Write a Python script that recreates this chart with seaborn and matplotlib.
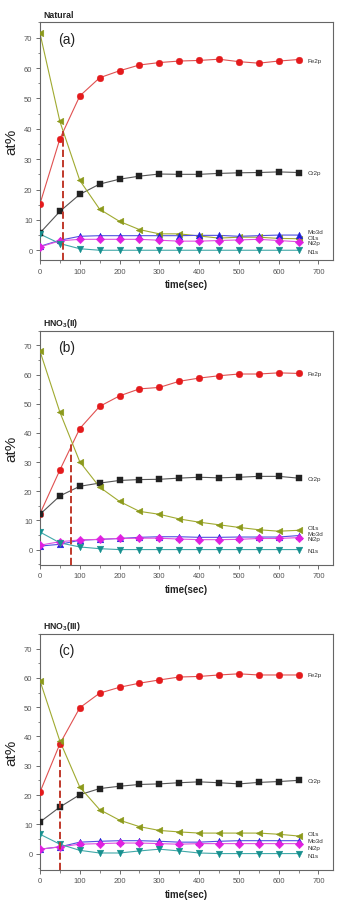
import numpy as np
import matplotlib
matplotlib.use('Agg')
import matplotlib.pyplot as plt
from matplotlib.ticker import MultipleLocator
import pandas as pd
import seaborn as sns

sns.set_style('white')
plt.rcParams['font.family'] = ['Liberation Sans', 'DejaVu Sans']
plt.rcParams['mathtext.fontset'] = 'custom'
plt.rcParams['mathtext.bf'] = 'Liberation Sans:bold'
plt.rcParams['mathtext.rm'] = 'Liberation Sans'

## datos
t = [0, 50, 100, 150, 200, 250, 300, 350, 400, 450, 500, 550, 600, 650]
elements = ['Fe2p', 'Cr2p', 'O1s', 'Mo3d', 'Ni2p', 'N1s']

# (a) Natural
fe_a = [15.3, 36.7, 50.8, 56.8, 59.1, 61.0, 61.8, 62.3, 62.5, 62.9, 62.1, 61.6, 62.3, 62.8]
cr_a = [5.7, 12.8, 18.4, 21.8, 23.4, 24.4, 25.1, 25.0, 25.0, 25.3, 25.5, 25.6, 25.8, 25.6]
o_a = [71.4, 42.4, 23.0, 13.5, 9.5, 6.8, 5.4, 5.4, 4.7, 4.0, 4.3, 4.3, 3.9, 3.8]
mo_a = [1.3, 3.3, 4.6, 4.8, 4.8, 4.8, 4.8, 4.8, 4.9, 4.9, 4.6, 4.8, 5.0, 5.0]
ni_a = [1.1, 3.1, 3.6, 3.6, 3.6, 3.6, 3.3, 3.0, 3.0, 3.2, 3.4, 3.6, 3.2, 2.8]
n_a = [5.3, 2.2, 0.5, 0.0, 0.0, 0.0, 0.0, 0.0, 0.0, 0.0, 0.0, 0.0, 0.0, 0.0]

# (b) HNO3(II)
fe_b = [12.3, 27.3, 41.5, 49.1, 52.7, 55.1, 55.6, 57.7, 58.8, 59.6, 60.2, 60.2, 60.6, 60.4]
cr_b = [12.1, 18.4, 21.7, 22.8, 23.7, 24.0, 24.1, 24.5, 24.8, 24.6, 24.8, 25.1, 25.1, 24.5]
o_b = [68.0, 47.1, 30.1, 21.4, 16.5, 13.1, 12.1, 10.5, 9.4, 8.5, 7.6, 6.8, 6.3, 6.6]
mo_b = [1.2, 1.8, 3.2, 3.5, 3.8, 4.2, 4.4, 4.4, 4.2, 4.2, 4.3, 4.3, 4.3, 4.8]
ni_b = [1.5, 2.7, 3.3, 3.5, 3.8, 3.9, 3.9, 3.6, 3.4, 3.4, 3.5, 3.8, 3.8, 4.1]
n_b = [6.0, 2.3, 0.9, 0.3, 0.0, 0.0, 0.0, 0.0, 0.0, 0.0, 0.0, 0.0, 0.0, 0.0]

# (c) HNO3(III)
fe_c = [21.0, 37.5, 49.8, 54.8, 56.8, 58.2, 59.3, 60.3, 60.5, 61.0, 61.4, 61.0, 61.0, 61.0]
cr_c = [10.8, 15.9, 20.1, 22.2, 23.0, 23.6, 23.8, 24.2, 24.5, 24.2, 23.8, 24.3, 24.6, 25.0]
o_c = [59.0, 38.4, 22.7, 15.0, 11.4, 9.2, 7.9, 7.4, 7.0, 7.0, 7.0, 7.0, 6.6, 6.0]
mo_c = [1.5, 2.3, 3.9, 4.2, 4.4, 4.4, 4.2, 3.9, 3.9, 4.2, 4.4, 4.4, 4.4, 4.4]
ni_c = [1.5, 2.3, 3.2, 3.4, 3.6, 3.6, 3.4, 3.2, 3.4, 3.4, 3.4, 3.4, 3.4, 3.4]
n_c = [6.6, 3.2, 1.1, 0.2, 0.2, 0.9, 1.5, 0.9, 0.2, 0.0, 0.0, 0.0, 0.0, 0.0]

titles = [r'Natural', r'HNO$_\mathbf{3}$(II)', r'HNO$_\mathbf{3}$(III)']
letters = ['(a)', '(b)', '(c)']
# linea cortada (tiempo, at% del cruce)
cross_t = [57, 79, 50]
cross_y = [39.2, 36.2, 38.0]
# posicion de las etiquetas a la derecha
lab_a = [62.5, 25.5, 4.3, 6.2, 2.4, -0.4]
lab_b = [60.5, 24.5, 7.4, 5.6, 3.7, -0.3]
lab_c = [61.0, 25.0, 6.8, 4.6, 2.2, -0.6]
ybottom = [-3.2, -5.2, -5.5]

series = [
    [fe_a, cr_a, o_a, mo_a, ni_a, n_a],
    [fe_b, cr_b, o_b, mo_b, ni_b, n_b],
    [fe_c, cr_c, o_c, mo_c, ni_c, n_c],
]
labpos = [lab_a, lab_b, lab_c]

palette = {'Fe2p': '#e41a1c', 'Cr2p': '#222222', 'O1s': '#8c9a1c',
           'Mo3d': '#2020d8', 'Ni2p': '#e020e0', 'N1s': '#17908f'}
linecol = {'Fe2p': '#e05050', 'Cr2p': '#555555', 'O1s': '#a0aa30',
           'Mo3d': '#5050e0', 'Ni2p': '#e050e0', 'N1s': '#40a8a8'}
markers = {'Fe2p': 'o', 'Cr2p': 's', 'O1s': '<', 'Mo3d': '^', 'Ni2p': 'D', 'N1s': 'v'}
msize = {'Fe2p': 4.8, 'Cr2p': 4.3, 'O1s': 4.8, 'Mo3d': 4.8, 'Ni2p': 4.3, 'N1s': 4.8}

fig = plt.figure(figsize=(3.42, 9.03), dpi=100)
positions = [[0.117, 0.711, 0.857, 0.263],
             [0.117, 0.3735, 0.857, 0.259],
             [0.117, 0.0358, 0.857, 0.261]]

for i in range(3):
    ax = fig.add_axes(positions[i])
    rows = []
    for el, vals in zip(elements, series[i]):
        for tt, v in zip(t, vals):
            rows.append({'time': tt, 'at': v, 'el': el})
    df = pd.DataFrame(rows)

    # lineas
    sns.lineplot(data=df, x='time', y='at', hue='el', palette=linecol, ax=ax,
                 linewidth=0.8, legend=False, estimator=None, sort=False)
    # marcadores
    for el in elements:
        d = df[df['el'] == el]
        sns.scatterplot(data=d, x='time', y='at', color=palette[el], marker=markers[el],
                        s=msize[el] ** 2, edgecolor=palette[el], linewidth=0.3, ax=ax,
                        legend=False, zorder=3)

    ax.vlines(cross_t[i], ybottom[i], cross_y[i], colors='#c0392b', linestyles='--', lw=1.4, zorder=4)

    for el, yy in zip(elements, labpos[i]):
        ax.text(672, yy, el, fontsize=4.5, color='#333333', va='center', ha='left')

    ax.text(45, 69.5, letters[i], fontsize=10, color='#222222', va='center', ha='left')

    ax.set_xlim(0, 737)
    ax.set_ylim(ybottom[i], 75)
    ax.xaxis.set_major_locator(MultipleLocator(100))
    ax.xaxis.set_minor_locator(MultipleLocator(50))
    ax.yaxis.set_major_locator(MultipleLocator(10))
    ax.yaxis.set_minor_locator(MultipleLocator(5))
    ax.set_xticks(np.arange(0, 701, 100))
    ax.set_yticks(np.arange(0, 71, 10))
    ax.tick_params(which='major', direction='out', length=3, width=0.6, labelsize=5.5,
                   labelcolor='#555555', color='#555555', pad=2.5, bottom=True, left=True)
    ax.tick_params(which='minor', direction='out', length=1.8, width=0.5, color='#555555',
                   bottom=True, left=True)
    for sp in ax.spines.values():
        sp.set_color('#666666')
        sp.set_linewidth(0.8)
    ax.set_xlabel('time(sec)', fontsize=7, weight='bold', color='#222222', labelpad=3.5)
    ax.set_ylabel('at%', fontsize=11, color='#222222', labelpad=4)
    ax.set_title(titles[i], fontsize=6.3, weight='bold', loc='left', pad=4, color='#222222', x=0.01)

plt.savefig('out.png', dpi=100)
